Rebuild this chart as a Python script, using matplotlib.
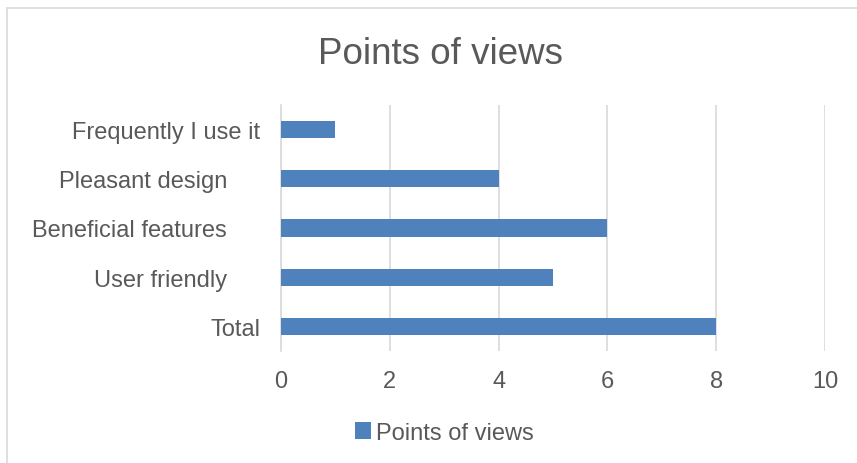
import matplotlib
matplotlib.use("Agg")
import matplotlib.pyplot as plt
import matplotlib.transforms as mtransforms
from matplotlib.patches import Rectangle

categories = ["Total", "User friendly", "Beneficial features", "Pleasant design", "Frequently I use it"]
values = [8, 5, 6, 4, 1]
# labels typed with trailing blanks sit further left of the axis
label_indent = [0, 1, 1, 1, 0]
series_name = "Points of views"
title = "Points of views"
xticks = [0, 2, 4, 6, 8, 10]

plt.rcParams["font.family"] = ["Liberation Sans", "DejaVu Sans"]
text_color = "#595959"
bar_color = "#4F81BD"
grid_color = "#D9D9D9"

fig = plt.figure(figsize=(8.57, 4.64), dpi=100)
ax = fig.add_axes([281 / 857, 1 - 352 / 464, (825 - 281) / 857, (352 - 106) / 464])

# outer chart frame
fig.patches.append(Rectangle((7 / 857, -0.1), 1.1, 1 - 9 / 464 + 0.1,
                             transform=fig.transFigure, fill=False,
                             edgecolor=grid_color, linewidth=1.2))

ypos = list(range(len(categories)))
ax.barh(ypos, values, height=0.35, color=bar_color, label=series_name, zorder=3)

ax.set_xlim(0, 10)
ax.set_ylim(-0.5, len(categories) - 0.5)
ax.set_xticks(xticks)
ax.set_xticklabels([str(t) for t in xticks])
ax.set_yticks(ypos)
ax.set_yticklabels(categories)
ax.tick_params(axis="both", length=0, labelsize=17, colors=text_color)
ax.tick_params(axis="x", pad=14)
ax.tick_params(axis="y", pad=15)
ax.xaxis.grid(True, color=grid_color, linewidth=1.2, zorder=0)
for s in ["top", "right", "bottom"]:
    ax.spines[s].set_visible(False)
ax.spines["left"].set_color(grid_color)
ax.spines["left"].set_linewidth(1.2)

for lab, ind in zip(ax.get_yticklabels(), label_indent):
    if ind:
        lab.set_transform(lab.get_transform() +
                          mtransforms.ScaledTranslation(-0.33, 0, fig.dpi_scale_trans))

fig.text(441 / 857, 1 - 54 / 464, title, ha="center", va="center",
         fontsize=26.5, color=text_color)

leg = fig.legend(loc="center", bbox_to_anchor=(444 / 857, 1 - 434 / 464),
                 frameon=False, fontsize=17, handlelength=0.7, handleheight=0.7,
                 handletextpad=0.2, labelcolor=text_color)

fig.savefig("out.png", dpi=100)
